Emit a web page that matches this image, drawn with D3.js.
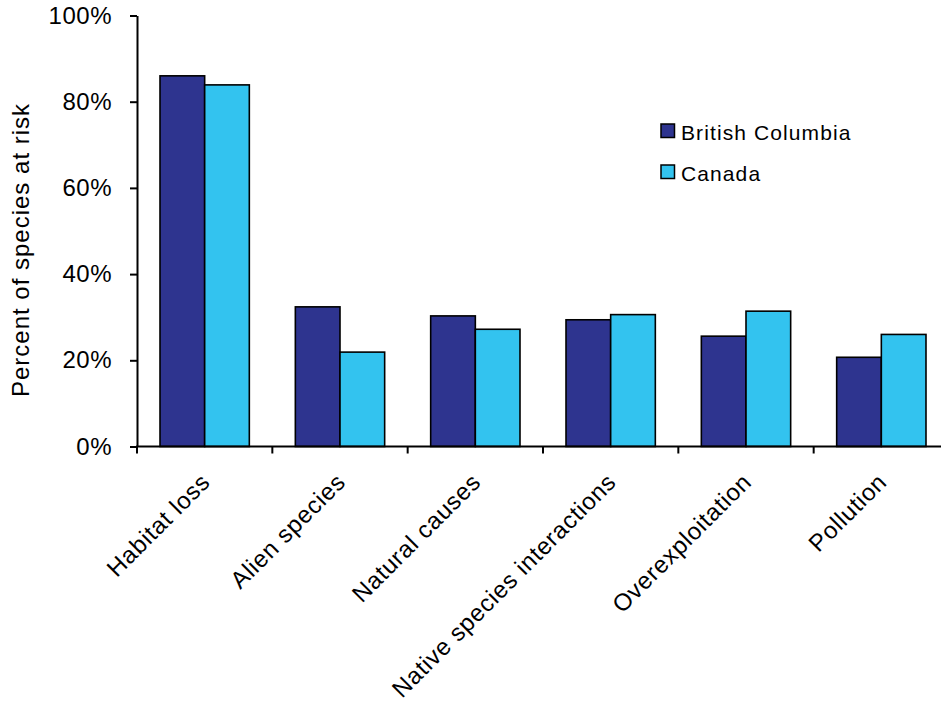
<!DOCTYPE html>
<html>
<head>
<meta charset="utf-8">
<script src="https://cdn.jsdelivr.net/npm/d3@7"></script>
<style>
  html, body { margin: 0; padding: 0; background: #fff; }
  svg { display: block; font-family: "Liberation Sans", Arial, sans-serif; }
</style>
</head>
<body>
<svg id="chart" width="941" height="703"></svg>
<script>
const categories = ["Habitat loss", "Alien species", "Natural causes", "Native species interactions", "Overexploitation", "Pollution"];
const seriesNames = ["British Columbia", "Canada"];
const britishColumbia = [0.86, 0.324, 0.303, 0.294, 0.256, 0.207];
const canada = [0.839, 0.219, 0.272, 0.306, 0.314, 0.26];
const yTicks = [0, 0.2, 0.4, 0.6, 0.8, 1.0];
const colors = ["#2E348F", "#33C3EF"];

const svg = d3.select("#chart");
const mLeft = 137, mRight = 949, mTop = 15.5, mBottom = 446.5;

const x = d3.scaleBand().domain(categories).range([mLeft, mRight]).paddingInner(0.34).paddingOuter(0.17);
const xs = d3.scaleBand().domain(seriesNames).range([0, x.bandwidth()]);
const y = d3.scaleLinear().domain([0, 1]).range([mBottom, mTop]);

const data = categories.map((c, i) => ({ cat: c, vals: [britishColumbia[i], canada[i]] }));

// bars
const g = svg.append("g");
data.forEach(d => {
  d.vals.forEach((v, j) => {
    g.append("rect")
      .attr("x", x(d.cat) + xs(seriesNames[j]))
      .attr("y", y(v))
      .attr("width", xs.bandwidth())
      .attr("height", y(0) - y(v))
      .attr("fill", colors[j])
      .attr("stroke", "#000")
      .attr("stroke-width", 1.6);
  });
});

// y axis
const yAxis = svg.append("g")
  .attr("transform", `translate(${mLeft},0)`)
  .call(d3.axisLeft(y).tickValues(yTicks).tickFormat(d3.format(".0%")).tickSize(7).tickPadding(18).tickSizeOuter(0));
yAxis.select(".domain").attr("stroke", "#000").attr("stroke-width", 2);
yAxis.selectAll(".tick line").attr("stroke", "#000").attr("stroke-width", 2);
yAxis.selectAll(".tick text").attr("font-size", 24).attr("fill", "#000")
  .attr("letter-spacing", 0.5)
  .attr("font-family", "Liberation Sans, Arial, sans-serif");

// x axis line + ticks at band boundaries
const step = x.step();
const boundaries = d3.range(categories.length + 1).map(i => mLeft + i * step);
svg.append("line").attr("x1", mLeft - 1).attr("x2", mRight + 2).attr("y1", mBottom).attr("y2", mBottom)
  .attr("stroke", "#000").attr("stroke-width", 2.2);
svg.selectAll(".xtick").data(boundaries).enter().append("line")
  .attr("x1", d => d).attr("x2", d => d).attr("y1", mBottom).attr("y2", mBottom + 7)
  .attr("stroke", "#000").attr("stroke-width", 2);

// x labels rotated
svg.selectAll(".xlab").data(categories).enter().append("text")
  .attr("transform", d => `translate(${x(d) + x.bandwidth() / 2 + 1},${mBottom + 31}) rotate(-45)`)
  .attr("text-anchor", "end")
  .attr("dy", "0.35em")
  .attr("font-size", 24)
  .attr("letter-spacing", 0.72)
  .attr("fill", "#000")
  .text(d => d);

// y title
svg.append("text")
  .attr("transform", `translate(29,250) rotate(-90)`)
  .attr("text-anchor", "middle")
  .attr("font-size", 24)
  .attr("letter-spacing", 1)
  .attr("fill", "#000")
  .text("Percent of species at risk");

// legend
const legend = svg.append("g").attr("transform", "translate(661,124)");
seriesNames.forEach((s, i) => {
  const lg = legend.append("g").attr("transform", `translate(0,${i * 41})`);
  lg.append("rect").attr("width", 13.5).attr("height", 13.5)
    .attr("fill", colors[i]).attr("stroke", "#000").attr("stroke-width", 1.5);
  lg.append("text").attr("x", 20).attr("y", 16).attr("font-size", 21).attr("letter-spacing", 1.1)
    .attr("fill", "#000").text(s);
});
</script>
</body>
</html>
